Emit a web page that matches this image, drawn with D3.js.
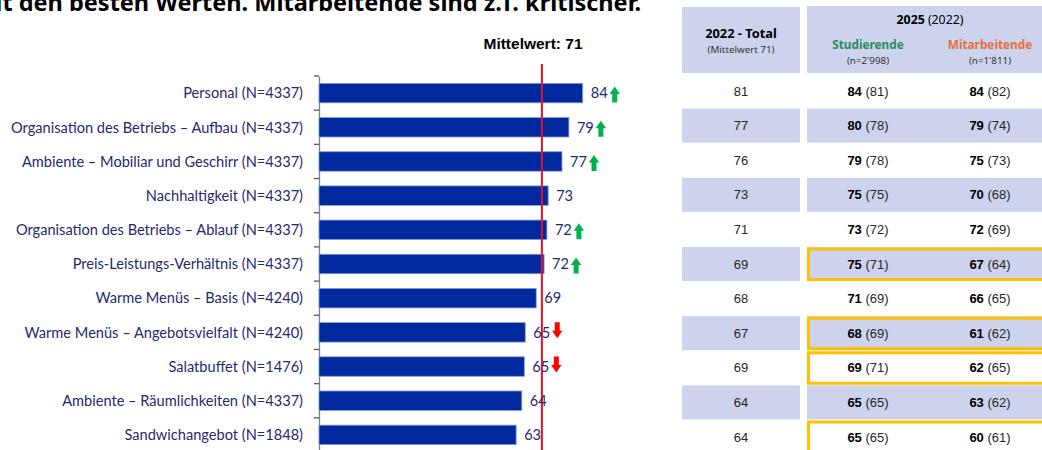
<!DOCTYPE html>
<html><head><meta charset="utf-8">
<script src="https://cdn.jsdelivr.net/npm/d3@7"></script>
<style>body{margin:0;background:#fff}svg{display:block}</style>
</head><body><svg id="c" width="1042" height="450"></svg>
<script>
const categories = ["Personal (N=4337)","Organisation des Betriebs – Aufbau (N=4337)","Ambiente – Mobiliar und Geschirr (N=4337)","Nachhaltigkeit (N=4337)","Organisation des Betriebs – Ablauf (N=4337)","Preis-Leistungs-Verhältnis (N=4337)","Warme Menüs – Basis (N=4240)","Warme Menüs – Angebotsvielfalt (N=4240)","Salatbuffet (N=1476)","Ambiente – Räumlichkeiten (N=4337)","Sandwichangebot (N=1848)"];
const barValues = [84, 79.6, 77.4, 73, 72.6, 71.7, 69.2, 65.7, 65.4, 64.6, 62.8];
const barLabels = ["84","79","77","73","72","72","69","65","65","64","63"];
const trends = ["up","up","up","","up","up","","down","down","",""];
const meanValue = 71;
const total2022 = [81,77,76,73,71,69,68,67,69,64,64];
const stud2025 = [84,80,79,75,73,75,71,68,69,65,65];
const stud2022 = [81,78,78,75,72,71,69,69,71,65,65];
const mit2025 = [84,79,75,70,72,67,66,61,62,63,60];
const mit2022 = [82,74,73,68,69,64,65,62,65,62,61];
const highlighted = [false,false,false,false,false,true,false,true,true,false,true];

const svg = d3.select("#c");
const navy = "#1f2a6e";
const catFont = "Lato, 'Open Sans', sans-serif";

// title (cut at top/left edge as in the source)
svg.append("text").attr("x", 641).attr("y", 11).attr("text-anchor","end")
  .attr("font-family","'Noto Sans', sans-serif").attr("font-weight","bold").attr("font-size",23.5)
  .attr("fill","#000").text("mit den besten Werten. Mitarbeitende sind z.T. kritischer.");

// bar chart
const x = d3.scaleLinear().domain([0, 84]).range([319, 582.7]);
const y = d3.scaleBand().domain(categories).range([76, 452]).paddingInner(0.43).paddingOuter(0.215);
const step = y.step();

const yAxis = svg.append("g").attr("transform","translate(319,0)")
  .call(d3.axisLeft(y).tickSize(0).tickFormat(""));
yAxis.select(".domain").attr("stroke","#7f7f7f").attr("stroke-width",1.3);
svg.append("g").selectAll("line").data(categories).join("line")
  .attr("x1",314).attr("x2",319)
  .attr("y1",d => y(d) - (step - y.bandwidth())/2).attr("y2",d => y(d) - (step - y.bandwidth())/2)
  .attr("stroke","#595959").attr("stroke-width",1.3);

svg.append("g").selectAll("text").data(categories).join("text")
  .attr("x",303).attr("y",d => y(d)+y.bandwidth()/2).attr("dy","0.36em")
  .attr("text-anchor","end").attr("font-family",catFont).attr("font-size",14.6)
  .attr("fill",navy).text(d => d);

svg.append("g").selectAll("rect").data(categories).join("rect")
  .attr("x",x(0)).attr("y",d => y(d)).attr("height",y.bandwidth())
  .attr("width",(d,i) => x(barValues[i]) - x(0))
  .attr("fill","#0029a0").attr("stroke","#8a9bd6").attr("stroke-width",0.8);

// mean line
svg.append("line").attr("x1",x(meanValue)).attr("x2",x(meanValue)).attr("y1",64).attr("y2",450)
  .attr("stroke","#e3122a").attr("stroke-width",2);
svg.append("text").attr("x",533).attr("y",49).attr("text-anchor","middle")
  .attr("font-family","'Liberation Sans', Arial, sans-serif").attr("font-weight","bold").attr("font-size",15.5)
  .attr("fill","#000").text("Mittelwert: " + meanValue);

// value labels
svg.append("g").selectAll("text").data(categories).join("text")
  .attr("x",(d,i) => x(barValues[i]) + 8).attr("y",d => y(d)+y.bandwidth()/2).attr("dy","0.36em")
  .attr("font-family",catFont).attr("font-size",14.6).attr("fill",navy)
  .text((d,i) => barLabels[i]);

// trend arrows
const arrowUp = "M0,-8 L5.2,-0.5 L2.5,-0.5 L2.5,8 L-2.5,8 L-2.5,-0.5 L-5.2,-0.5 Z";
const arrowDown = "M0,8 L5.2,0.5 L2.5,0.5 L2.5,-8 L-2.5,-8 L-2.5,0.5 L-5.2,0.5 Z";
svg.append("g").selectAll("path").data(categories.map((c,i)=>({c,i})).filter(o => trends[o.i]))
  .join("path")
  .attr("transform",o => `translate(${x(barValues[o.i]) + 8 + 24},${y(o.c)+y.bandwidth()/2 + (trends[o.i]==="up"?1.5:-2)})`)
  .attr("d",o => trends[o.i]==="up" ? arrowUp : arrowDown)
  .attr("fill",o => trends[o.i]==="up" ? "#00b050" : "#ff0000");

// table
const headFont = "'Noto Sans', 'Open Sans', sans-serif";
const numFont = "'Liberation Sans', Arial, sans-serif";
const shade = "#cdd3ec";
const ty = d3.scaleBand().domain(d3.range(categories.length)).range([74, 74 + 34.6*11]);
const col = {c1:[682,800], c2:[807,1050]};
const cx1 = 741, cx2 = 868, cx3 = 990;

svg.append("rect").attr("x",col.c1[0]).attr("y",7).attr("width",col.c1[1]-col.c1[0]).attr("height",66).attr("fill",shade);
svg.append("rect").attr("x",col.c2[0]).attr("y",6).attr("width",col.c2[1]-col.c2[0]).attr("height",67).attr("fill",shade);

const h = svg.append("g").attr("text-anchor","middle").attr("font-family",headFont);
h.append("text").attr("x",cx1).attr("y",38).attr("font-weight","bold").attr("font-size",12.8).attr("fill","#000").text("2022 - Total");
h.append("text").attr("x",cx1).attr("y",53).attr("font-size",9.8).attr("fill","#333").text("(Mittelwert " + meanValue + ")");
const t25 = h.append("text").attr("x",930).attr("y",24).attr("font-size",12.3).attr("fill","#000");
t25.append("tspan").attr("font-weight","bold").text("2025");
t25.append("tspan").text(" (2022)");
h.append("text").attr("x",cx2).attr("y",49).attr("font-weight","bold").attr("font-size",11.8).attr("fill","#2e8b5a").text("Studierende");
h.append("text").attr("x",cx2).attr("y",64).attr("font-size",9.8).attr("fill","#333").text("(n=2'998)");
h.append("text").attr("x",cx3).attr("y",49).attr("font-weight","bold").attr("font-size",11.8).attr("fill","#e8703a").text("Mitarbeitende");
h.append("text").attr("x",cx3).attr("y",64).attr("font-size",9.8).attr("fill","#333").text("(n=1'811)");

const rows = svg.append("g").selectAll("g").data(d3.range(categories.length)).join("g");
rows.filter(i => i % 2 === 1).append("rect").attr("x",col.c1[0]).attr("y",i => ty(i)).attr("width",col.c1[1]-col.c1[0]).attr("height",34).attr("fill",shade);
rows.filter(i => i % 2 === 1).append("rect").attr("x",col.c2[0]).attr("y",i => ty(i)).attr("width",col.c2[1]-col.c2[0]).attr("height",34).attr("fill",shade);
rows.filter(i => highlighted[i]).append("rect").attr("x",col.c2[0]+1.5).attr("y",i => ty(i)+2).attr("width",col.c2[1]-col.c2[0]).attr("height",30.5)
  .attr("fill","none").attr("stroke","#ffc000").attr("stroke-width",3);

const ry = i => ty(i) + 17;
rows.append("text").attr("x",cx1).attr("y",ry).attr("dy","0.36em").attr("text-anchor","middle")
  .attr("font-family",numFont).attr("font-size",13).attr("fill","#262626").text(i => total2022[i]);
function pair(cx, a, b){
  const t = rows.append("text").attr("x",cx).attr("y",ry).attr("dy","0.36em").attr("text-anchor","middle")
    .attr("font-family",numFont).attr("font-size",13).attr("fill","#262626");
  t.append("tspan").attr("font-weight","bold").attr("fill","#000").text(i => a[i]);
  t.append("tspan").text(i => " (" + b[i] + ")");
}
pair(cx2, stud2025, stud2022);
pair(cx3, mit2025, mit2022);
</script></body></html>
